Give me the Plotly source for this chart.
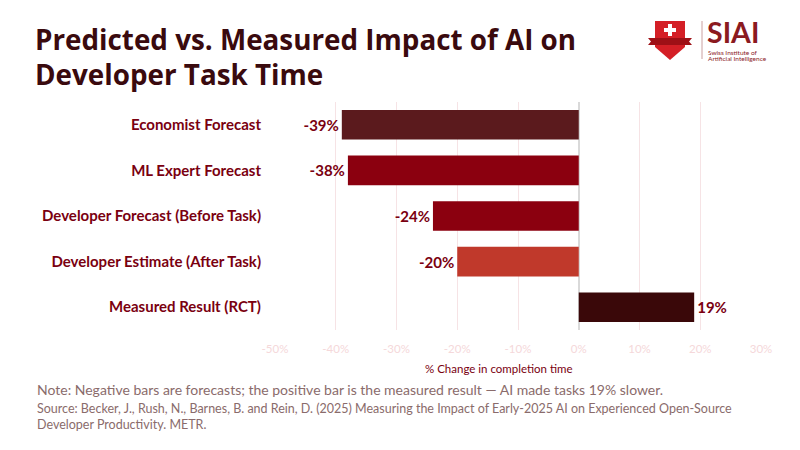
import plotly.graph_objects as go

categories = ["Economist Forecast", "ML Expert Forecast", "Developer Forecast (Before Task)",
              "Developer Estimate (After Task)", "Measured Result (RCT)"]
values = [-39, -38, -24, -20, 19]
bar_colors = ["#5b1a1d", "#8b000f", "#8b000f", "#c0392b", "#3a0809"]
tick_vals = [-50, -40, -30, -20, -10, 0, 10, 20, 30]
tick_text = ["-50%", "-40%", "-30%", "-20%", "-10%", "0%", "10%", "20%", "30%"]

FONT = "Lato"
TFONT = "Open Sans"
W, H = 800, 450
L, R, T, B = 275, 39, 102, 120
PW, PH = W - L - R, H - T - B

def px(x):
    return (x - L) / PW

def py(y):
    return (H - B - y) / PH

fig = go.Figure()
fig.add_trace(go.Bar(
    y=categories, x=values, orientation="h",
    marker=dict(color=bar_colors, line=dict(width=0)),
    text=[f"{v}%" for v in values], textposition="outside",
    textfont=dict(family=FONT, size=15, color="#7a0010", weight="bold"),
    cliponaxis=False, hoverinfo="skip",
))

shapes = []
# logo: shield
shapes.append(dict(type="path", xref="paper", yref="paper",
                   path=f"M {px(655)} {py(21)} L {px(685)} {py(21)} L {px(685)} {py(47)} "
                        f"L {px(670)} {py(60)} L {px(655)} {py(47)} Z",
                   fillcolor="#d41f26", line=dict(width=0)))
shapes.append(dict(type="path", xref="paper", yref="paper",
                   path=f"M {px(648)} {py(38)} L {px(692)} {py(38)} L {px(689)} {py(41.5)} "
                        f"L {px(692)} {py(45)} L {px(648)} {py(45)} L {px(651)} {py(41.5)} Z",
                   fillcolor="#9e1016", line=dict(width=0)))
shapes.append(dict(type="rect", xref="paper", yref="paper",
                   x0=px(668), x1=px(672), y0=py(36), y1=py(24),
                   fillcolor="white", line=dict(width=0)))
shapes.append(dict(type="rect", xref="paper", yref="paper",
                   x0=px(664), x1=px(676), y0=py(32), y1=py(28),
                   fillcolor="white", line=dict(width=0)))
shapes.append(dict(type="line", xref="paper", yref="paper",
                   x0=px(702), x1=px(702), y0=py(21), y1=py(59),
                   line=dict(color="#c9a0a0", width=1)))

annotations = [
    dict(text="Predicted vs. Measured Impact of AI on", xref="paper", yref="paper",
         x=px(33), y=py(39), xanchor="left", yanchor="middle", showarrow=False,
         font=dict(family=TFONT, size=27.8, color="#3a0a0e", weight="bold")),
    dict(text="Developer Task Time", xref="paper", yref="paper",
         x=px(33), y=py(73.5), xanchor="left", yanchor="middle", showarrow=False,
         font=dict(family=TFONT, size=27.8, color="#3a0a0e", weight="bold")),
    dict(text="SIAI", xref="paper", yref="paper", x=px(705), y=py(32), xanchor="left", yanchor="middle",
         showarrow=False, font=dict(family=FONT, size=28.5, color="#8b1a1f", weight="bold")),
    dict(text="Swiss Institute of", xref="paper", yref="paper",
         x=px(706), y=py(52), xanchor="left", yanchor="middle",
         showarrow=False, font=dict(family=FONT, size=6.5, color="#8b1a1f")),
    dict(text="Artificial Intelligence", xref="paper", yref="paper",
         x=px(706), y=py(58.5), xanchor="left", yanchor="middle",
         showarrow=False, font=dict(family=FONT, size=6.5, color="#8b1a1f")),
    dict(text="% Change in completion time", xref="paper", yref="paper", x=px(499), y=py(368),
         xanchor="center", yanchor="middle", showarrow=False,
         font=dict(family=FONT, size=11.5, color="#7a0010")),
    dict(text="Note: Negative bars are forecasts; the positive bar is the measured result \u2014 AI made tasks 19% slower.",
         xref="paper", yref="paper", x=px(35), y=py(389), xanchor="left", yanchor="middle",
         showarrow=False, font=dict(family=FONT, size=14, color="#8a6b6b")),
    dict(text="Source: Becker, J., Rush, N., Barnes, B. and Rein, D. (2025) Measuring the Impact of Early-2025 AI on Experienced Open-Source",
         xref="paper", yref="paper", x=px(35), y=py(408), xanchor="left", yanchor="middle",
         showarrow=False, font=dict(family=FONT, size=12.5, color="#8a6b6b")),
    dict(text="Developer Productivity. METR.",
         xref="paper", yref="paper", x=px(35), y=py(424), xanchor="left", yanchor="middle",
         showarrow=False, font=dict(family=FONT, size=12.5, color="#8a6b6b")),
]

fig.update_layout(
    width=W, height=H,
    margin=dict(l=L, r=R, t=T, b=B),
    paper_bgcolor="white", plot_bgcolor="white",
    showlegend=False, bargap=0.35,
    xaxis=dict(range=[-50, 30], tickvals=tick_vals, ticktext=tick_text,
               showgrid=True, gridcolor="#f6e3e5", gridwidth=1,
               zeroline=True, zerolinecolor="#d9d9d9", zerolinewidth=1.5,
               showline=False, ticks="outside", ticklen=8, tickcolor="rgba(0,0,0,0)",
               fixedrange=True,
               tickfont=dict(family=FONT, size=11.5, color="#f5d8da")),
    yaxis=dict(autorange="reversed", showgrid=False, zeroline=False, showline=False,
               ticks="outside", ticklen=10, tickcolor="rgba(0,0,0,0)", fixedrange=True,
               tickfont=dict(family=FONT, size=15, color="#7a0010", weight="bold")),
    shapes=shapes, annotations=annotations,
    font=dict(family=FONT),
)

fig.write_html("out.html", config={"displayModeBar": False},
               post_script="document.body.style.margin='0px';")
